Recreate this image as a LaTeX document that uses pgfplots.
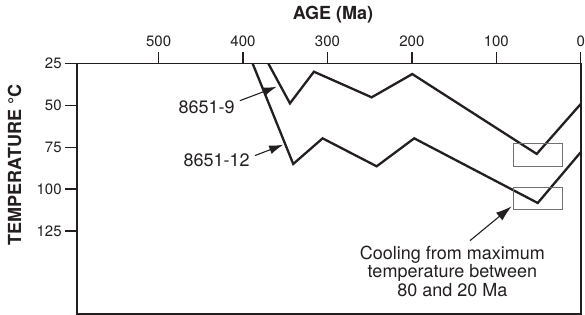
\documentclass[border=0pt]{standalone}
\usepackage{fontspec}
\setmainfont{TeX Gyre Heros}
\usepackage{pgfplots}
\pgfplotsset{compat=1.18}
\usetikzlibrary{arrows.meta}
\definecolor{ink}{HTML}{231F20}
\definecolor{boxgray}{HTML}{707070}
\begin{document}
\begin{tikzpicture}
\path[use as bounding box] (-76.7pt,-1pt) rectangle (508.3pt,314pt);
\begin{axis}[
  name=ax, at={(0pt,0pt)}, anchor=south west,
  scale only axis, width=504pt, height=250.5pt,
  xmin=0, xmax=597, ymin=25, ymax=174.6,
  x dir=reverse, y dir=reverse,
  xtick={0,100,200,300,400,500}, ytick={25,50,75,100,125},
  xtick pos=upper, xticklabel pos=upper, ytick pos=left,
  tick align=outside, major tick length=11.5pt,
  tick style={line width=1.4pt, color=ink},
  axis line style={line width=1.8pt, color=ink},
  /pgf/number format/assume math mode=true,
  ticklabel style={font=\fontsize{15}{18}\selectfont, text=ink},
  xticklabel style={yshift=2pt},
  clip mode=individual,
]
\addplot[ink, line width=2.3pt, line join=miter] coordinates {(370,25)(344.4,48.8)(316,29.9)(247.6,45.2)(199.5,31.3)(52.1,79)(0,49.2)};
\addplot[ink, line width=2.3pt, line join=miter] coordinates {(388.6,25)(340.5,85)(305.7,69.7)(241.7,86.4)(197.2,69.7)(50.9,108.3)(0,78)};
\addplot[boxgray, line width=1.1pt] coordinates {(80,72.6)(21.3,72.6)(21.3,86.6)(80,86.6)} -- cycle;
\addplot[boxgray, line width=1.1pt] coordinates {(80,98.9)(21.3,98.9)(21.3,112.3)(80,112.3)} -- cycle;
\draw[ink, line width=1.1pt, -{Latex[length=14pt,width=9pt]}] (axis cs:403.7,47.2) -- (axis cs:360.2,38.9);
\draw[ink, line width=1.1pt, -{Latex[length=14pt,width=9pt]}] (axis cs:385.9,80) -- (axis cs:352.4,73.5);
\draw[ink, line width=1.1pt, -{Latex[length=16pt,width=10pt]}] (axis cs:131.2,130.8) -- (axis cs:81.8,110.3);
\node[anchor=east, inner sep=0pt, font=\fontsize{18}{20}\selectfont, text=ink] at (axis cs:409.6,51.1) {8651-9};
\node[anchor=east, inner sep=0pt, font=\fontsize{18}{20}\selectfont, text=ink] at (axis cs:391.8,82.6) {8651-12};
\node[anchor=north, align=center, inner sep=0pt, font=\fontsize{18}{18.5}\selectfont, text=ink] at (axis cs:152,133.8) {Cooling from maximum\\temperature between\\80 and 20 Ma};
\end{axis}
\node[font=\bfseries\fontsize{18}{20}\selectfont, text=ink] at ([xshift=256.3pt,yshift=49pt]ax.north west) {AGE (Ma)};
\node[rotate=90, font=\bfseries\fontsize{18}{20}\selectfont, text=ink] at ([xshift=-62.2pt,yshift=-101.5pt]ax.north west) {TEMPERATURE °C};
\end{tikzpicture}
\end{document}
